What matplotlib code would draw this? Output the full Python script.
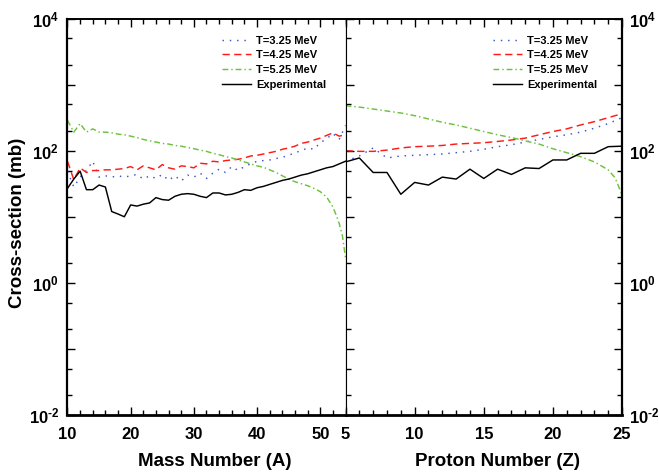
import matplotlib
matplotlib.use('Agg')
import matplotlib.pyplot as plt
from matplotlib.ticker import FixedLocator, FuncFormatter, NullFormatter, MultipleLocator
import numpy as np

plt.rcParams['font.family'] = ['Liberation Sans', 'DejaVu Sans']
plt.rcParams['font.weight'] = 'bold'
plt.rcParams['mathtext.fontset'] = 'custom'
plt.rcParams['mathtext.rm'] = 'Liberation Sans:bold'
plt.rcParams['mathtext.bf'] = 'Liberation Sans:bold'
plt.rcParams['mathtext.it'] = 'Liberation Sans:bold'

# ---------------- data ----------------
# Left panel: mass number A
mass_A = list(range(10, 55))
exp_A = [26.9, 37.2, 49.0, 25.7, 25.7, 30.2, 28.2, 12.0, 11.0, 10.0,
         15.1, 14.5, 15.5, 16.2, 19.5, 18.2, 17.8, 20.4, 21.9, 22.4,
         21.9, 20.4, 19.5, 22.9, 22.9, 21.4, 21.9, 23.4, 25.7, 25.1,
         27.5, 28.8, 30.9, 33.1, 35.5, 37.2, 39.8, 42.7, 44.7, 47.9,
         51.3, 55.0, 57.5, 63.1, 69.2]
t325_A = [49.0, 28.2, 39.8, 50.1, 69.2, 39.8, 41.7, 39.8, 41.7, 39.8,
          41.7, 43.7, 37.2, 41.7, 38.0, 43.7, 35.5, 41.7, 34.7, 42.7,
          39.8, 45.7, 38.0, 45.7, 52.5, 46.8, 57.5, 50.1, 57.5, 63.1,
          69.2, 70.8, 72.4, 75.9, 79.4, 85.1, 93.3, 100, 110, 105,
          132, 151, 182, 148, 240]
t425_A = [69.2, 36.3, 55.0, 46.8, 50.1, 50.1, 51.3, 51.3, 52.5, 53.7,
          57.5, 51.3, 58.9, 55.0, 51.3, 61.7, 55.0, 52.5, 58.9, 57.5,
          55.0, 64.6, 63.1, 69.2, 67.6, 70.8, 72.4, 74.1, 77.6, 83.2,
          85.1, 89.1, 93.3, 97.7, 105, 110, 117, 129, 135, 145,
          155, 170, 186, 166, 174]
mass_A_t525 = list(range(10, 53)) + [52.5, 53, 53.5, 54]
t525_A = [288, 191, 257, 191, 214, 191, 191, 186, 178, 174,
          166, 158, 148, 141, 135, 129, 126, 120, 117, 112,
          107, 102, 97.7, 91.2, 87.1, 81.3, 77.6, 72.4, 67.6, 63.1,
          58.9, 56.2, 51.3, 46.8, 41.7, 37.2, 33.9, 31.6, 29.5, 26.9,
          24.0, 20.0, 14.1, 10.7, 7.9, 5.2, 2.4]

# Right panel: proton number Z
proton_Z = list(range(5, 26))
exp_Z = [67.6, 77.6, 46.8, 46.8, 21.9, 33.1, 30.2, 39.8, 37.2, 52.5,
         38.0, 52.5, 43.7, 55.0, 53.7, 72.4, 72.4, 91.2, 91.2, 115, 117]
t325_Z = [69.2, 83.2, 110, 77.6, 83.2, 85.1, 87.1, 89.1, 93.3, 97.7,
          105, 115, 123, 135, 148, 162, 174, 191, 219, 257, 316]
t425_Z = [100, 97.7, 97.7, 102, 110, 115, 117, 120, 126, 129,
          132, 138, 145, 155, 174, 195, 214, 245, 275, 316, 363]
proton_Z_t525 = list(range(5, 25)) + [24.5, 25]
t525_Z = [479, 457, 427, 398, 372, 339, 302, 269, 245, 219,
          195, 174, 158, 141, 126, 107, 93.3, 81.3, 67.6, 51.3, 38.9, 21.4]

labels = ['T=3.25 MeV', 'T=4.25 MeV', 'T=5.25 MeV', 'Experimental']

# ---------------- styles ----------------
c_blue = '#3a55c8'
c_red = '#ff1a1a'
c_green = '#6cc23c'
ls_blue = (0, (1, 4))
ls_red = (0, (5, 3))
ls_green = (0, (4, 2, 1, 2))
lw = 1.05

fig = plt.figure(figsize=(6.59, 4.75), dpi=100)
axL = fig.add_axes([0.1024, 0.1263, 0.4219, 0.8347])
axR = fig.add_axes([0.5243, 0.1263, 0.4196, 0.8347])


def draw(ax, x, xg, e, b, r, g):
    ax.plot(x, b, color=c_blue, ls=ls_blue, lw=lw, label=labels[0])
    ax.plot(x, r, color=c_red, ls=ls_red, lw=lw, label=labels[1])
    ax.plot(xg, g, color=c_green, ls=ls_green, lw=lw, label=labels[2])
    ax.plot(x, e, color='black', ls='-', lw=lw, label=labels[3])


draw(axL, mass_A, mass_A_t525, exp_A, t325_A, t425_A, t525_A)
draw(axR, proton_Z, proton_Z_t525, exp_Z, t325_Z, t425_Z, t525_Z)


def yfmt(v, pos):
    e = int(round(np.log10(v)))
    if e % 2:
        return ''
    s = str(e).replace('-', '\u2010')
    return r'$\mathbf{10^{%s}}$' % s


major_y = [10.0 ** k for k in range(-2, 5)]
minor_y = [m * 10.0 ** k for k in range(-2, 4) for m in (2, 5)]

for ax in (axL, axR):
    ax.set_yscale('log')
    ax.set_ylim(1e-2, 1e4)
    ax.yaxis.set_major_locator(FixedLocator(major_y))
    ax.yaxis.set_minor_locator(FixedLocator(minor_y))
    ax.yaxis.set_major_formatter(FuncFormatter(yfmt))
    ax.yaxis.set_minor_formatter(NullFormatter())
    ax.tick_params(which='both', direction='in', top=True, width=1.0,
                   labelsize=12, colors='black')
    ax.tick_params(which='major', length=6)
    ax.tick_params(which='minor', length=3.5)
    ax.tick_params(axis='x', pad=8.5)
    for lab in ax.get_xticklabels() + ax.get_yticklabels():
        lab.set_fontweight('bold')

axL.set_xlim(10, 54)
axL.xaxis.set_major_locator(FixedLocator([10, 20, 30, 40, 50]))
axL.xaxis.set_minor_locator(MultipleLocator(2))
axL.tick_params(axis='y', which='both', left=True, right=False, pad=6)

axR.set_xlim(5, 25)
axR.xaxis.set_major_locator(FixedLocator([5, 10, 15, 20, 25]))
axR.xaxis.set_minor_locator(MultipleLocator(1))
axR.tick_params(axis='y', which='both', left=True, right=True,
                labelleft=False, labelright=True, pad=5)

# spines
axL.spines['left'].set_linewidth(1.6)
axL.spines['bottom'].set_linewidth(2.0)
axL.spines['top'].set_linewidth(1.4)
axL.spines['right'].set_linewidth(0.8)
axR.spines['left'].set_linewidth(0.8)
axR.spines['bottom'].set_linewidth(2.0)
axR.spines['top'].set_linewidth(1.4)
axR.spines['right'].set_linewidth(1.6)

for ax, x0 in ((axL, 0.555), (axR, 0.532)):
    ax.legend(loc='upper left', bbox_to_anchor=(x0, 0.957), frameon=False,
              borderpad=0, borderaxespad=0, handlelength=2.6,
              handletextpad=0.5, labelspacing=0.42,
              prop={'size': 8, 'weight': 'bold'})

fig.text(0.026, 0.53, 'Cross-section (mb)', rotation=90, ha='center',
         va='center', fontsize=13.5, fontweight='bold')
fig.text(214.5 / 659, 1 - 461 / 475, 'Mass Number (A)', ha='center',
         va='center', fontsize=13.5, fontweight='bold')
fig.text(497.5 / 659, 1 - 461 / 475, 'Proton Number (Z)', ha='center',
         va='center', fontsize=13.5, fontweight='bold')

fig.savefig('out.png', dpi=100)
